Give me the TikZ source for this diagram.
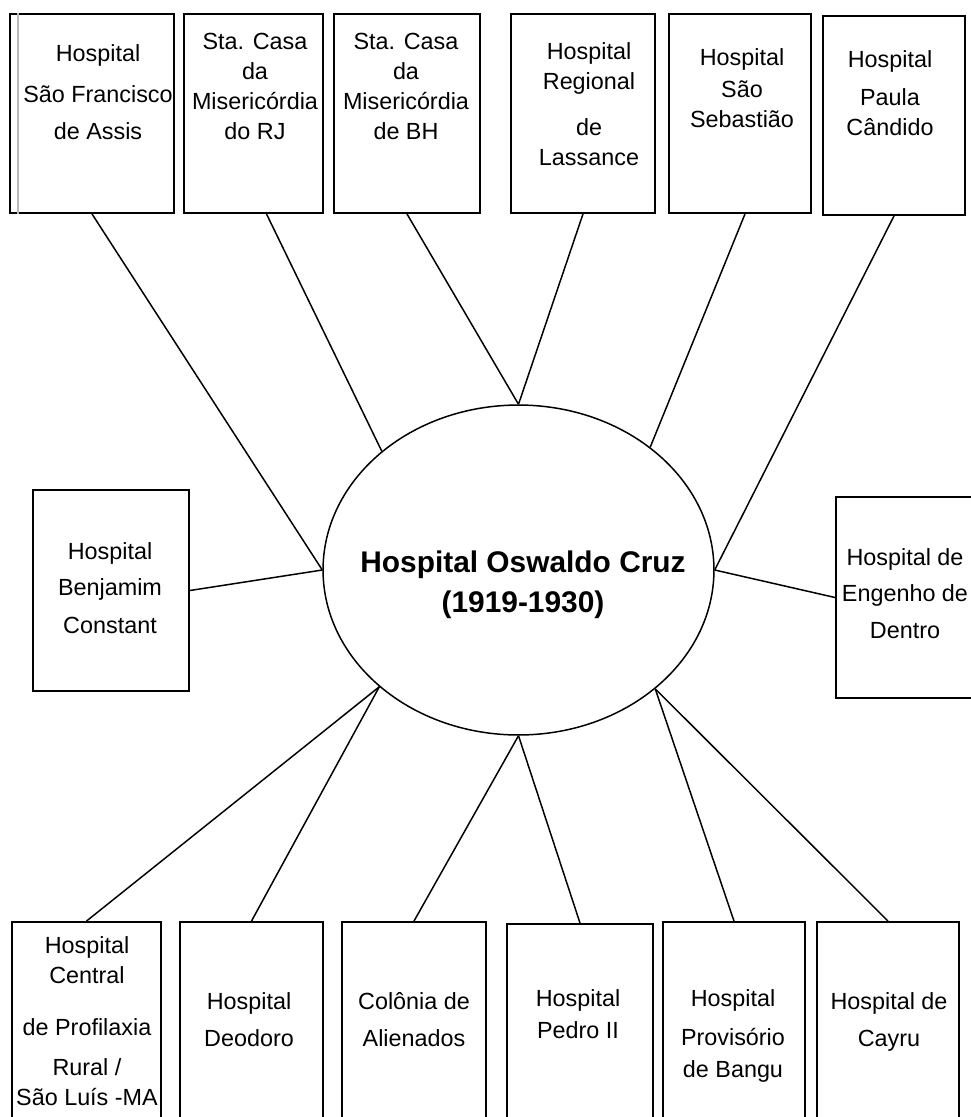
\documentclass[tikz,border=0pt]{standalone}
\usepackage{fontspec}
\setmainfont{Liberation Sans}
\usepackage{tikz}
\usetikzlibrary{shapes.geometric, calc}
\tikzset{
  hbox/.style={rectangle, draw=black, line width=1.1pt, inner sep=0pt,
    minimum height=3.98cm},
  hub/.style={ellipse, draw=black, line width=0.85pt, inner sep=0pt,
    minimum width=7.82cm, minimum height=6.6cm},
  txt/.style={align=center, inner sep=0pt, anchor=base,
    font=\fontsize{13.3}{17}\selectfont},
  line/.style={line width=0.85pt, color=black}
}

\begin{document}
\begin{tikzpicture}[x=0.02cm, y=-0.02cm]
    \clip (0,0) rectangle (971,1117);
    % Centre
    \node[hub] (oc) at (518.5,570) {};
    \node[txt, font=\fontsize{17}{22.7}\selectfont\bfseries] (octxt) at (523,612)
      {Hospital Oswaldo Cruz\\(1919-1930)};
    % Top row
    \node[hbox, minimum width=3.28cm] (sf) at (92,113.5) {};
    \draw[gray!55, line width=0.7pt] ($(sf.north west)+(9,0)$) -- ($(sf.south west)+(9,0)$);
    \node[hbox, minimum width=2.78cm] (rj) at (253.5,113.5) {};
    \node[hbox, minimum width=2.92cm] (bh) at (407,113.5) {};
    \node[hbox, minimum width=2.88cm] (la) at (583,113.5) {};
    \node[hbox, minimum width=2.84cm] (ss) at (740,113.5) {};
    \node[hbox, minimum width=2.84cm] (pc) at (894,115.5) {};
    \node[txt] (sftxt) at (98,139) {Hospital\\[6pt]São Francisco\\[4pt]de Assis};
    \node[txt] (rjtxt) at (255,139) {Sta. Casa\\da\\Misericórdia\\do RJ};
    \node[txt] (bhtxt) at (406,139) {Sta. Casa\\da\\Misericórdia\\de BH};
    \node[txt] (latxt) at (589,165) {Hospital\\Regional\\[9pt]de\\Lassance};
    \node[txt] (sstxt) at (742,127) {Hospital\\[1pt]São\\Sebastião};
    \node[txt] (pctxt) at (890,135) {Hospital\\[4.5pt]Paula\\Cândido};
    % Sides
    \node[hbox, minimum width=3.12cm, minimum height=4.02cm] (bc) at (111,590.5) {};
    \node[hbox, minimum width=3.0cm, minimum height=4.02cm] (ed) at (911,597.5) {};
    \node[txt] (bctxt) at (110,633) {Hospital\\[3.4pt]Benjamim\\[4.5pt]Constant};
    \node[txt] (edtxt) at (905,638) {Hospital de\\[3.4pt]Engenho de\\[4pt]Dentro};
    % Bottom row
    \node[hbox, minimum width=2.98cm, minimum height=4cm] (pr) at (86.5,1022) {};
    \node[hbox, minimum width=2.86cm, minimum height=4cm] (de) at (251.5,1022) {};
    \node[hbox, minimum width=2.88cm, minimum height=4cm] (ca) at (414,1022) {};
    \node[hbox, minimum width=2.92cm, minimum height=4cm] (p2) at (580,1024) {};
    \node[hbox, minimum width=2.84cm, minimum height=4cm] (bg) at (734,1022) {};
    \node[hbox, minimum width=2.84cm, minimum height=4cm] (cy) at (888,1022) {};
    \node[txt] (prtxt) at (87,1105) {Hospital\\Central\\[12.5pt]de Profilaxia\\[5.7pt]Rural /\\São Luís -MA};
    \node[txt] (detxt) at (249,1046) {Hospital\\[4pt]Deodoro};
    \node[txt] (catxt) at (414,1046) {Colônia de\\[4pt]Alienados};
    \node[txt] (p2txt) at (578,1038) {Hospital\\[1pt]Pedro II};
    \node[txt] (bgtxt) at (733,1077) {Hospital\\[5pt]Provisório\\[1pt]de Bangu};
    \node[txt] (cytxt) at (889,1046) {Hospital de\\[4pt]Cayru};
    % Connectors
    \draw[line] (sf.south) -- (oc.180);
    \draw[line] ($(rj.south)+(13,0)$) -- (oc.139.8);
    \draw[line] (bh.south) -- (oc.90);
    \draw[line] (la.south) -- (oc.90);
    \draw[line] ($(ss.south)+(5,0)$) -- (oc.43.5);
    \draw[line] (pc.south) -- (oc.0);
    \draw[line] (bc.east) -- (oc.180);
    \draw[line] (ed.west) -- (oc.0);
    \draw[line] (pr.north) -- (oc.220.2);
    \draw[line] (de.north) -- (oc.220.2);
    \draw[line] (ca.north) -- (oc.270);
    \draw[line] (p2.north) -- (oc.270);
    \draw[line] (bg.north) -- (oc.319.8);
    \draw[line] (cy.north) -- (oc.319.8);
\end{tikzpicture}
\end{document}
